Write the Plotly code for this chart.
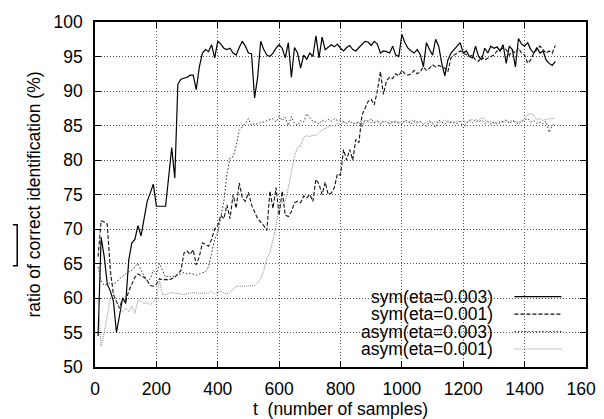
import plotly.graph_objects as go

t = [10, 20, 30, 40, 50, 60, 70, 80, 90, 100,
     110, 120, 130, 140, 150, 160, 170, 180, 190, 200,
     210, 220, 230, 240, 250, 260, 270, 280, 290, 300,
     310, 320, 330, 340, 350, 360, 370, 380, 390, 400,
     410, 420, 430, 440, 450, 460, 470, 480, 490, 500,
     510, 520, 530, 540, 550, 560, 570, 580, 590, 600,
     610, 620, 630, 640, 650, 660, 670, 680, 690, 700,
     710, 720, 730, 740, 750, 760, 770, 780, 790, 800,
     810, 820, 830, 840, 850, 860, 870, 880, 890, 900,
     910, 920, 930, 940, 950, 960, 970, 980, 990, 1000,
     1010, 1020, 1030, 1040, 1050, 1060, 1070, 1080, 1090, 1100,
     1110, 1120, 1130, 1140, 1150, 1160, 1170, 1180, 1190, 1200,
     1210, 1220, 1230, 1240, 1250, 1260, 1270, 1280, 1290, 1300,
     1310, 1320, 1330, 1340, 1350, 1360, 1370, 1380, 1390, 1400,
     1410, 1420, 1430, 1440, 1450, 1460, 1470, 1480, 1490, 1500]

sym_eta003 = [54.5, 68.8, 66.0, 62.0, 61.0, 59.5, 55.0, 57.5, 60.0, 59.2,
              65.5, 68.0, 68.5, 70.5, 69.0, 71.5, 74.0, 75.2, 76.5, 73.3,
              73.3, 73.3, 73.3, 77.5, 81.8, 77.4, 91.0, 91.7, 91.8, 92.0,
              92.3, 92.3, 90.2, 93.5, 95.5, 96.0, 95.7, 96.7, 94.8, 97.2,
              96.8, 96.2, 96.0, 96.2, 95.5, 95.2, 96.3, 97.2, 96.5, 95.5,
              95.4, 89.0, 92.0, 97.2, 96.0, 95.2, 95.0, 95.5, 96.2, 96.7,
              96.2, 94.8, 97.0, 92.0, 96.3, 95.5, 93.3, 95.2, 94.6, 95.5,
              95.0, 98.0, 94.8, 97.8, 96.0, 96.3, 96.7, 96.4, 96.8, 96.2,
              95.8, 96.3, 96.6, 96.0, 95.8, 96.3, 96.8, 97.2, 97.1, 96.6,
              97.2, 96.8, 95.5, 95.8, 95.7, 95.5, 96.5, 95.2, 95.0, 98.2,
              97.0, 96.2, 95.8, 95.5, 96.0, 95.3, 93.5, 97.0, 96.0, 95.2,
              97.5, 96.5, 94.0, 92.2, 94.5, 95.5, 96.0, 96.5, 97.0, 95.5,
              95.8, 95.0, 94.8, 96.5, 95.0, 94.5, 96.2, 95.5, 96.5, 96.2,
              96.4, 95.8, 96.7, 94.0, 96.5, 96.0, 93.5, 97.6, 96.8, 96.5,
              97.0, 96.0, 95.5, 96.3, 95.5, 95.8, 94.5, 94.0, 93.7, 94.3]

sym_eta001 = [66.0, 71.2, 71.0, 70.7, 64.0, 60.5, 59.5, 58.5, 60.0, 59.5,
              61.0, 62.0, 63.0, 63.5, 63.2, 63.0, 62.5, 61.8, 61.7, 62.0,
              62.8, 62.6, 62.7, 62.6, 62.8, 63.0, 63.5, 64.0, 66.5, 66.8,
              66.3, 67.0, 64.8, 66.0, 68.0, 67.8, 67.5, 68.5, 70.0, 70.5,
              72.0, 71.5, 73.5, 71.5, 75.0, 73.0, 76.7, 74.5, 74.0, 75.3,
              73.5, 72.5, 71.5, 71.0, 70.5, 69.8, 75.5, 73.0, 76.0, 72.0,
              75.5, 72.0, 71.8, 72.5, 73.8, 74.0, 73.8, 74.8, 74.5, 75.0,
              74.0, 77.2, 76.5, 75.0, 76.8, 75.0, 75.2, 76.0, 78.0, 77.8,
              81.5, 80.0, 81.5, 80.0, 83.0, 82.5, 86.5, 87.5, 88.5, 88.8,
              88.0, 90.0, 92.8, 89.5, 91.5, 92.0, 91.8, 92.5, 92.2, 93.0,
              92.5, 92.3, 92.5, 93.0, 92.5, 92.8, 93.5, 93.0, 93.3, 93.8,
              93.5, 93.7, 93.5, 93.3, 92.8, 94.8, 95.2, 95.5, 95.8, 95.5,
              95.3, 95.0, 95.2, 94.5, 94.3, 95.0, 94.5, 94.8, 95.0, 95.2,
              95.8, 96.0, 96.2, 96.0, 95.2, 95.8, 95.5, 96.2, 95.5, 95.2,
              94.0, 94.5, 95.5, 96.0, 96.5, 96.0, 95.5, 95.8, 95.5, 96.6]

asym_eta003 = [64.5, 62.5, 61.8, 62.0, 62.2, 62.0, 62.3, 62.8, 63.2, 63.5,
               63.8, 64.0, 64.5, 65.0, 64.0, 63.3, 62.5, 62.8, 64.0, 63.5,
               65.0, 64.0, 63.0, 63.2, 63.0, 63.2, 63.3, 63.5, 63.7, 63.5,
               63.6, 63.4, 63.3, 63.5, 63.6, 63.8, 64.5, 66.5, 68.5, 69.5,
               71.5, 74.0, 78.0, 80.3, 80.5, 82.0, 84.3, 84.8, 85.3, 86.0,
               85.0, 85.3, 85.2, 85.5, 85.5, 85.7, 85.8, 86.0, 85.5, 86.3,
               85.7, 86.2, 85.0, 86.3, 85.3, 85.0, 85.7, 85.5, 86.7, 86.2,
               85.6, 85.5, 85.2, 85.8, 85.5, 85.9, 85.6, 86.0, 85.7, 85.8,
               85.5, 85.3, 85.7, 85.2, 85.4, 85.5, 84.8, 85.8, 85.6, 86.0,
               85.4, 85.6, 85.2, 85.7, 85.5, 85.3, 85.6, 85.5, 85.4, 85.2,
               85.8, 85.6, 85.2, 85.7, 85.5, 85.6, 85.1, 84.9, 85.6, 85.3,
               84.7, 85.8, 85.5, 85.2, 85.7, 85.4, 85.5, 85.3, 85.6, 84.7,
               85.2, 85.8, 85.4, 85.9, 85.5, 85.8, 85.3, 85.6, 85.2, 85.5,
               85.2, 85.4, 85.5, 85.8, 85.3, 85.6, 85.5, 85.2, 85.6, 85.8,
               86.0, 85.5, 85.7, 85.3, 85.5, 85.2, 85.6, 84.0, 85.0, 85.3]

asym_eta001 = [60.0, 53.0, 55.0, 57.5, 60.0, 60.5, 59.5, 58.5, 58.0, 58.5,
               58.0, 58.8, 57.8, 59.7, 59.5, 59.2, 59.3, 59.0, 59.5, 59.8,
               62.5, 60.5, 60.5, 60.7, 60.8, 60.7, 60.7, 60.6, 60.5, 60.6,
               60.6, 60.8, 60.7, 60.7, 60.8, 60.8, 60.7, 61.0, 60.6, 60.8,
               61.0, 60.7, 60.6, 60.8, 61.2, 61.7, 61.7, 61.7, 61.7, 61.8,
               61.8, 61.8, 62.2, 62.8, 64.0, 65.8, 66.5, 68.5, 70.5, 73.5,
               73.8, 74.0, 76.0, 78.5, 80.5, 81.8, 82.0, 83.3, 83.5, 83.4,
               83.6, 83.5, 84.0, 84.3, 84.5, 84.7, 85.0, 84.9, 85.3, 85.2,
               85.5, 85.3, 85.6, 85.4, 85.2, 85.5, 85.7, 85.3, 85.6, 85.4,
               85.5, 85.8, 85.3, 85.5, 85.6, 85.2, 85.4, 85.7, 85.5, 85.3,
               85.6, 85.4, 85.8, 85.5, 85.3, 85.6, 85.2, 85.5, 85.7, 85.4,
               85.6, 85.3, 85.5, 85.8, 85.4, 85.6, 85.3, 85.7, 85.5, 85.8,
               85.4, 85.6, 85.9, 85.5, 85.7, 86.2, 85.8, 85.5, 85.6, 85.3,
               85.5, 85.6, 85.4, 85.7, 85.5, 85.8, 85.6, 85.5, 85.7, 86.0,
               86.6, 86.7, 86.5, 85.8, 86.0, 85.7, 85.9, 86.0, 86.0, 86.0]

series_names = ["sym(eta=0.003)", "sym(eta=0.001)", "asym(eta=0.003)", "asym(eta=0.001)"]
series_values = [sym_eta003, sym_eta001, asym_eta003, asym_eta001]
x_tick_vals = [0, 200, 400, 600, 800, 1000, 1200, 1400, 1600]
y_tick_vals = [50, 55, 60, 65, 70, 75, 80, 85, 90, 95, 100]

styles = [
    dict(color="#000000", width=1.2, dash="solid"),
    dict(color="#111111", width=1.1, dash="4px,2px"),
    dict(color="#333333", width=1.0, dash="1.5px,2px"),
    dict(color="#8a8a8a", width=1.0, dash="1px,1px"),
]

FONT = "Liberation Sans, Arial, Helvetica, sans-serif"

fig = go.Figure()
for name, vals, st in zip(series_names, series_values, styles):
    fig.add_trace(go.Scatter(x=t, y=vals, mode="lines", name=name,
                             line=st, showlegend=False))

axis_common = dict(
    showline=True, linecolor="black", linewidth=1.5, mirror="ticks",
    ticks="inside", ticklen=6, tickwidth=1, tickcolor="black",
    showgrid=True, gridcolor="#555555", gridwidth=1, griddash="1px,2px",
    zeroline=False, automargin=False,
    tickfont=dict(family=FONT, size=17.5, color="black"),
)

fig.update_layout(
    width=604, height=419,
    margin=dict(l=87, r=26, t=14, b=60, autoexpand=False),
    paper_bgcolor="white", plot_bgcolor="white",
    font=dict(family=FONT, size=17.5, color="black"),
    xaxis=dict(range=[0, 1600], tickvals=x_tick_vals, ticklabelstandoff=5,
               title=dict(text="t\u00a0 (number of samples)", standoff=4,
                          font=dict(family=FONT, size=17.5)),
               **axis_common),
    yaxis=dict(range=[50, 100], tickvals=y_tick_vals, ticklabelstandoff=7,
               title=dict(text="ratio of correct identification (%)", standoff=8,
                          font=dict(family=FONT, size=17.5)),
               **axis_common),
)

# white key box hiding the grid behind the key
fig.add_shape(type="rect", xref="paper", yref="paper", x0=0.4913, x1=1.0, y0=0.0, y1=0.2301,
              fillcolor="white", line=dict(width=0), layer="between")

# key: text on the left, line sample on the right
row_y = [0.2041, 0.1534, 0.1027, 0.0521]
for name, st, yy in zip(series_names, styles, row_y):
    fig.add_annotation(xref="paper", yref="paper", x=0.8155, y=yy, text=name,
                       showarrow=False, xanchor="right", yanchor="middle",
                       font=dict(family=FONT, size=17.5, color="black"))
    fig.add_shape(type="line", xref="paper", yref="paper", x0=0.8542, x1=0.9501, y0=yy, y1=yy,
                  line=dict(color=st["color"], width=st["width"], dash=st["dash"]))

# small bracket mark at the left edge
fig.add_shape(type="path", xref="paper", yref="paper",
              path="M -0.1672,0.4124 L -0.1584,0.4124 L -0.1584,0.2938 L -0.1672,0.2938",
              line=dict(color="black", width=1.5))

fig.write_html("out.html")
